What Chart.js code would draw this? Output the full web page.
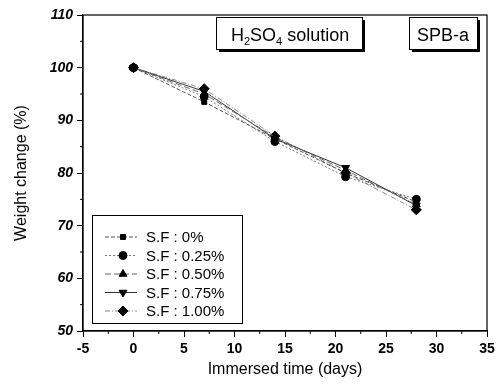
<!DOCTYPE html>
<html lang="en">
<head>
    <meta charset="UTF-8">
    <title>Weight change - H2SO4 solution</title>
    <script src="https://cdn.jsdelivr.net/npm/chart.js"></script>
    <style>
        html, body {
            margin: 0;
            padding: 0;
            background: #fff;
        }
        #wrap {
            width: 499px;
            height: 387px;
        }
    </style>
</head>
<body>
    <div id="wrap">
        <canvas id="weightChart" width="499" height="387"></canvas>
    </div>

    <script>
        // data
        const days = [0, 7, 14, 21, 28];
        const sf0 = [100, 93.5, 86.5, 80.0, 74.5];
        const sf025 = [100, 94.5, 86.0, 79.3, 75.0];
        const sf050 = [100, 95.0, 86.8, 80.5, 74.0];
        const sf075 = [100, 95.5, 86.5, 81.0, 73.8];
        const sf100 = [100, 96.0, 87.0, 80.0, 73.0];

        const seriesLabels = ['S.F : 0%', 'S.F : 0.25%', 'S.F : 0.50%', 'S.F : 0.75%', 'S.F : 1.00%'];
        const seriesValues = [sf0, sf025, sf050, sf075, sf100];
        const markers = ['rect', 'circle', 'triangle', 'triangle', 'rectRot'];
        const rotations = [0, 0, 0, 180, 0];
        const dashes = [[4, 2], [2, 2], [6, 3], [], [5, 2, 1, 2]];
        const lineColors = ['#555', '#777', '#666', '#333', '#888'];
        const radii = [3.5, 4, 4.5, 4.5, 5];

        const datasets = seriesValues.map((vals, i) => ({
            label: seriesLabels[i],
            data: days.map((d, j) => ({ x: d, y: vals[j] })),
            showLine: true,
            borderColor: lineColors[i],
            borderWidth: 1,
            borderDash: dashes[i],
            pointStyle: markers[i],
            rotation: rotations[i],
            pointRadius: radii[i],
            pointBackgroundColor: '#000',
            pointBorderColor: '#000',
            pointBorderWidth: 1
        }));

        const FONT = '"Liberation Sans", Arial, sans-serif';

        // frame, minor ticks, legend box and the two label boxes
        const decorations = {
            id: 'decorations',
            afterDraw(chart) {
                const ctx = chart.ctx;
                const a = chart.chartArea;
                const xs = chart.scales.x;
                const ys = chart.scales.y;
                ctx.save();

                // frame
                ctx.strokeStyle = '#000';
                ctx.lineWidth = 1.2;
                ctx.strokeRect(a.left, a.top, a.right - a.left, a.bottom - a.top);

                // minor ticks
                ctx.lineWidth = 1;
                ctx.beginPath();
                for (let v = -2.5; v < 35; v += 5) {
                    const px = xs.getPixelForValue(v);
                    ctx.moveTo(px, a.bottom);
                    ctx.lineTo(px, a.bottom + 3);
                }
                for (let v = 55; v < 110; v += 10) {
                    const py = ys.getPixelForValue(v);
                    ctx.moveTo(a.left, py);
                    ctx.lineTo(a.left - 3, py);
                }
                ctx.stroke();

                // label boxes with shadow
                const box = (x, y, w, h) => {
                    ctx.fillStyle = '#000';
                    ctx.fillRect(x + 3, y + 3, w, h);
                    ctx.fillStyle = '#fff';
                    ctx.fillRect(x, y, w, h);
                    ctx.strokeStyle = '#000';
                    ctx.lineWidth = 1;
                    ctx.strokeRect(x + 0.5, y + 0.5, w, h);
                };
                box(216, 17, 146, 32);
                box(409, 17, 68, 32);

                ctx.fillStyle = '#000';
                ctx.textBaseline = 'alphabetic';
                ctx.textAlign = 'left';
                let tx = 231;
                const ty = 41;
                const parts = [['H', 0], ['2', 1], ['SO', 0], ['4', 1], [' solution', 0]];
                parts.forEach(([t, sub]) => {
                    if (sub) {
                        ctx.font = '11px ' + FONT;
                        ctx.fillText(t, tx, ty + 4);
                    } else {
                        ctx.font = '18px ' + FONT;
                        ctx.fillText(t, tx, ty);
                    }
                    tx += ctx.measureText(t).width;
                });
                ctx.font = '18px ' + FONT;
                ctx.fillText('SPB-a', 417, 41);

                // legend
                const lx = 92, ly = 215, lw = 150, lh = 108;
                ctx.fillStyle = '#fff';
                ctx.fillRect(lx, ly, lw, lh);
                ctx.strokeStyle = '#000';
                ctx.lineWidth = 1;
                ctx.strokeRect(lx + 0.5, ly + 0.5, lw, lh);
                ctx.font = '15px ' + FONT;
                ctx.textBaseline = 'middle';
                chart.data.datasets.forEach((ds, i) => {
                    const cy = ly + 22 + i * 18.5;
                    ctx.strokeStyle = ds.borderColor;
                    ctx.setLineDash(ds.borderDash);
                    ctx.beginPath();
                    ctx.moveTo(lx + 13, cy);
                    ctx.lineTo(lx + 45, cy);
                    ctx.stroke();
                    ctx.setLineDash([]);
                    ctx.fillStyle = '#000';
                    ctx.strokeStyle = '#000';
                    Chart.helpers.drawPoint(ctx, {
                        pointStyle: ds.pointStyle,
                        rotation: ds.rotation,
                        radius: ds.pointRadius,
                        borderWidth: 1
                    }, lx + 31, cy);
                    ctx.fillStyle = '#000';
                    ctx.fillText(ds.label, lx + 54, cy + 1);
                });

                ctx.restore();
            }
        };

        new Chart(document.getElementById('weightChart'), {
            type: 'scatter',
            data: { datasets },
            options: {
                responsive: false,
                animation: false,
                layout: { padding: { top: 15, right: 12, left: 12, bottom: 8 } },
                plugins: {
                    legend: { display: false },
                    tooltip: { enabled: false }
                },
                scales: {
                    x: {
                        min: -5,
                        max: 35,
                        ticks: {
                            stepSize: 5,
                            color: '#000',
                            font: { family: FONT, size: 14, weight: 'bold' },
                            padding: 4
                        },
                        grid: {
                            drawOnChartArea: false,
                            tickLength: 6,
                            tickColor: '#000'
                        },
                        border: { color: '#000', width: 1.2 },
                        title: {
                            display: true,
                            text: 'Immersed time (days)',
                            color: '#000',
                            font: { family: FONT, size: 16 },
                            padding: { top: 6, bottom: 0 }
                        },
                        afterFit(scale) { scale.height = 48; }
                    },
                    y: {
                        min: 50,
                        max: 110,
                        ticks: {
                            stepSize: 10,
                            color: '#000',
                            font: { family: FONT, size: 14, weight: 'bold', style: 'italic' },
                            padding: 4
                        },
                        grid: {
                            drawOnChartArea: false,
                            tickLength: 6,
                            tickColor: '#000'
                        },
                        border: { color: '#000', width: 1.2 },
                        title: {
                            display: true,
                            text: 'Weight change (%)',
                            color: '#000',
                            font: { family: FONT, size: 16 },
                            padding: { top: 0, bottom: 8 }
                        },
                        afterFit(scale) { scale.width = 71; }
                    }
                }
            },
            plugins: [decorations]
        });
    </script>
</body>
</html>
